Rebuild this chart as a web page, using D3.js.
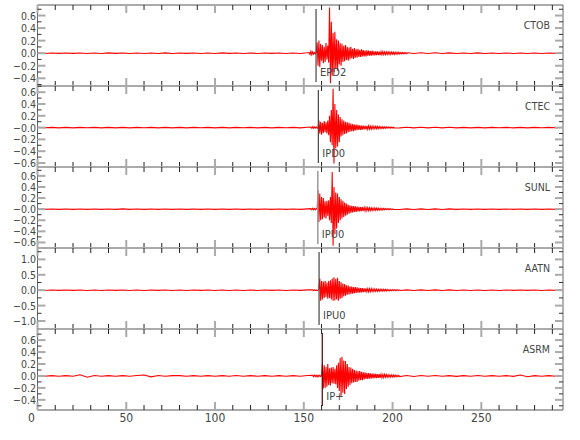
<!DOCTYPE html>
<html><head><meta charset="utf-8">
<script src="https://cdn.jsdelivr.net/npm/d3@7/dist/d3.min.js"></script>
<style>body{margin:0;background:#fff}</style>
</head><body><svg id="c" width="580" height="440"></svg>
<script>
// ---------- data ----------
const stations = ["CTOB","CTEC","SUNL","AATN","ASRM"];
const phaseLabels = ["EPD2","IPD0","IPU0","IPU0","IP+"];
const phaseTimes = [156.9,158.2,157.9,158.6,160.4];
const yMins = [-0.523,-0.668,-0.70,-1.26,-0.57];
const yMaxs = [0.768,0.705,0.76,1.37,0.786];
const yTickValues = [
  [0.6,0.4,0.2,0,-0.2,-0.4],
  [0.6,0.4,0.2,0,-0.2,-0.4,-0.6],
  [0.6,0.4,0.2,0,-0.2,-0.4,-0.6],
  [1.0,0.5,0,-0.5,-1.0],
  [0.6,0.4,0.2,0,-0.2,-0.4]
];
const yTickLabels = [
  ["0.6","0.4","0.2","0.0","\u22120.2","\u22120.4"],
  ["0.6","0.4","0.2","\u22120.0","\u22120.2","\u22120.4","\u22120.6"],
  ["0.6","0.4","0.2","\u22120.0","\u22120.2","\u22120.4","\u22120.6"],
  ["1.0","0.5","0.0","\u22120.5","\u22121.0"],
  ["0.6","0.4","0.2","0.0","\u22120.2","\u22120.4"]
];
const yMinorSteps = [0.1,0.1,0.1,0.25,0.1];
const xTickValues = [0,50,100,150,200,250];
const xTickLabels = ["0","50","100","150","200","250"];
const xMinorStep = 10;
const xMax = 296;

// background noise, one value every 4 s from t = 0
const noiseStep = 4;
const ctobNoise = [0.003,-0.004,0.003,-0.003,0.004,-0.003,0.004,-0.004,0.003,-0.004,
 0.005,-0.003,0.004,-0.005,0.004,-0.004,0.003,-0.004,0.005,-0.004,
 0.004,-0.003,0.004,-0.005,0.004,-0.004,0.005,-0.003,0.004,-0.004,
 0.003,-0.004,0.004,-0.003,0.004,-0.005,0.004,-0.004,0.006,-0.005,
 0.008,-0.007,0.009,-0.008,0.008,-0.007,0.007,-0.008,0.006,-0.007,
 0.007,-0.006,0.006,-0.006,0.006,-0.005,0.006,-0.005,0.005,-0.005,
 0.004,-0.005,0.005,-0.004,0.004,-0.005,0.004,-0.004,0.004,-0.004,
 0.003,-0.004,0.003,-0.003,0.003];
const ctecNoise = [0.003,-0.003,0.004,-0.004,0.003,-0.004,0.004,-0.003,0.004,-0.004,
 0.004,-0.004,0.003,-0.004,0.004,-0.003,0.004,-0.004,0.004,-0.004,
 0.003,-0.004,0.004,-0.003,0.004,-0.004,0.003,-0.004,0.004,-0.003,
 0.004,-0.004,0.003,-0.004,0.004,-0.003,0.004,-0.004,0.005,-0.005,
 0.007,-0.006,0.008,-0.007,0.007,-0.007,0.007,-0.006,0.006,-0.006,
 0.006,-0.005,0.005,-0.005,0.005,-0.005,0.005,-0.004,0.005,-0.004,
 0.004,-0.004,0.004,-0.004,0.004,-0.003,0.004,-0.004,0.003,-0.004,
 0.003,-0.003,0.004,-0.003,0.003];
const sunlNoise = [0.004,-0.003,0.004,-0.004,0.003,-0.004,0.004,-0.004,0.004,-0.003,
 0.004,-0.004,0.005,-0.004,0.004,-0.003,0.004,-0.004,0.004,-0.004,
 0.004,-0.004,0.003,-0.004,0.004,-0.004,0.004,-0.003,0.004,-0.004,
 0.004,-0.004,0.004,-0.004,0.003,-0.004,0.004,-0.004,0.005,-0.005,
 0.007,-0.007,0.008,-0.008,0.008,-0.007,0.007,-0.007,0.006,-0.006,
 0.006,-0.005,0.005,-0.006,0.005,-0.005,0.005,-0.005,0.005,-0.004,
 0.004,-0.004,0.004,-0.004,0.004,-0.004,0.004,-0.004,0.004,-0.003,
 0.004,-0.004,0.003,-0.004,0.003];
const aatnNoise = [0.007,-0.008,0.007,-0.007,0.008,-0.007,0.008,-0.008,0.007,-0.008,
 0.008,-0.007,0.008,-0.008,0.007,-0.008,0.008,-0.007,0.008,-0.008,
 0.007,-0.008,0.008,-0.007,0.008,-0.008,0.007,-0.008,0.008,-0.008,
 0.007,-0.008,0.008,-0.007,0.008,-0.008,0.008,-0.007,0.01,-0.01,
 0.014,-0.013,0.015,-0.014,0.013,-0.013,0.012,-0.012,0.011,-0.011,
 0.01,-0.01,0.01,-0.01,0.009,-0.009,0.009,-0.009,0.009,-0.008,
 0.008,-0.008,0.008,-0.008,0.008,-0.008,0.008,-0.007,0.008,-0.007,
 0.007,-0.008,0.007,-0.007,0.007];
const asrmNoise = [0.005,-0.005,0.006,-0.005,0.005,-0.006,0.02,-0.022,0.007,-0.006,
 0.005,-0.006,0.006,-0.005,0.008,0.016,-0.015,0.007,-0.006,0.006,
 0.005,-0.006,0.006,-0.005,0.006,-0.006,0.005,-0.006,0.007,-0.006,
 0.006,-0.005,0.006,-0.006,0.005,-0.006,0.006,-0.006,0.008,-0.008,
 0.01,-0.009,0.011,-0.01,0.01,-0.009,0.009,-0.008,0.008,-0.008,
 0.008,-0.007,0.007,-0.008,0.007,-0.006,0.007,-0.006,0.006,-0.007,
 0.006,-0.006,0.007,-0.006,0.006,-0.005,0.006,-0.007,0.016,-0.014,
 0.006,-0.005,0.006,-0.005,0.005];

// event waveforms, one value every 0.5 s from each start time
const denseStep = 0.5;
const denseStarts = [153.0,154.0,154.0,155.0,155.0];
const ctobDense = [0.01,-0.02,0.03,-0.025,0.02,-0.015,0.01,-0.01,0.01,
 0.17,-0.2,0.2,-0.22,0.15,-0.12,0.13,-0.16,0.1,-0.14,0.16,-0.1,0.12,-0.15,
 0.73,-0.48,0.5,-0.36,0.32,-0.3,0.34,-0.25,0.22,-0.28,0.2,-0.18,0.16,-0.2,0.15,-0.14,
 0.12,-0.13,0.13,-0.11,0.1,-0.12,0.09,-0.1,0.1,-0.08,0.07,-0.09,0.08,-0.07,0.06,
 -0.07,0.07,-0.06,0.05,-0.06,0.06,-0.05,0.05,-0.05,0.04,-0.05,0.045,-0.04,0.04,-0.04,
 0.035,-0.04,0.04,-0.035,0.03,-0.035,0.03,-0.03,0.03,-0.03,0.025,-0.03,0.025,-0.025,0.025,
 -0.02,0.02,-0.025,0.02,-0.02,0.02,-0.02,0.018,-0.02,0.018,-0.015,0.016,-0.018,0.015,-0.015,
 0.014,-0.013,0.015,-0.012,0.012,-0.01,0.01,-0.01,0.009,-0.008,0.008,-0.007,0.006];
const ctecDense = [0.01,-0.01,0.015,-0.012,0.01,-0.01,0.012,-0.01,0.0,
 0.12,-0.1,0.1,-0.12,0.08,-0.09,0.11,-0.08,0.09,-0.1,0.12,-0.13,0.2,-0.25,0.3,-0.3,
 0.66,-0.61,0.4,-0.35,0.3,-0.32,0.22,-0.25,0.18,-0.15,0.14,-0.13,0.12,-0.11,0.1,-0.1,
 0.09,-0.08,0.08,-0.07,0.07,-0.06,0.06,-0.06,0.05,-0.05,0.05,-0.045,0.045,-0.04,0.04,-0.04,
 0.035,-0.035,0.035,-0.03,0.03,-0.03,0.03,-0.028,0.028,-0.025,0.025,-0.025,0.022,-0.022,
 0.02,-0.02,0.02,-0.02,0.018,-0.018,0.016,-0.016,0.015,-0.015,0.014,-0.013,0.012,-0.012,
 0.012,-0.01,0.01,-0.01,0.009,-0.008,0.008,-0.007,0.006,-0.006];
const sunlDense = [0.01,-0.012,0.015,-0.01,0.012,-0.01,0.01,0.0,
 0.34,-0.23,0.28,-0.2,0.22,-0.18,0.2,-0.15,0.14,-0.17,0.15,-0.12,0.16,-0.2,0.22,-0.25,
 0.67,-0.66,0.4,-0.45,0.3,-0.35,0.28,-0.25,0.22,-0.2,0.18,-0.17,0.15,-0.14,0.12,-0.12,
 0.1,-0.1,0.08,-0.08,0.07,-0.07,0.06,-0.06,0.055,-0.05,0.05,-0.05,0.045,-0.04,0.04,-0.04,
 0.035,-0.035,0.035,-0.03,0.03,-0.03,0.03,-0.028,0.028,-0.025,0.025,-0.025,0.022,-0.022,
 0.02,-0.02,0.02,-0.02,0.018,-0.018,0.016,-0.016,0.015,-0.015,0.014,-0.013,0.012,-0.012,
 0.012,-0.01,0.01,-0.01,0.009,-0.008,0.008,-0.007,0.006,-0.006];
const aatnDense = [0.01,-0.01,0.012,-0.01,0.01,-0.012,0.0,0.05,
 0.38,-0.34,0.3,-0.3,0.28,-0.25,0.3,-0.22,0.25,-0.28,0.3,-0.25,0.32,-0.3,0.38,-0.34,
 0.42,-0.33,0.36,-0.3,0.4,-0.34,0.3,-0.28,0.26,-0.25,0.22,-0.2,0.2,-0.18,0.16,-0.15,
 0.15,-0.14,0.13,-0.12,0.12,-0.11,0.1,-0.1,0.1,-0.09,0.09,-0.08,0.08,-0.08,0.07,-0.07,
 0.07,-0.06,0.06,-0.06,0.06,-0.05,0.05,-0.05,0.05,-0.045,0.045,-0.04,0.04,-0.04,0.04,
 -0.035,0.035,-0.035,0.03,-0.03,0.03,-0.03,0.028,-0.028,0.025,-0.025,0.025,-0.022,0.022,
 -0.02,0.02,-0.02,0.018,-0.018,0.016,-0.016,0.015,-0.015,0.014,-0.013,0.012,-0.012,0.01,-0.01];
const asrmDense = [0.01,-0.012,0.015,-0.01,0.012,-0.015,0.01,-0.01,0.012,-0.01,0.0,
 0.2,-0.21,0.18,-0.2,0.15,-0.18,0.2,-0.15,0.13,-0.16,0.14,-0.12,0.15,-0.13,0.12,-0.14,
 0.18,-0.2,0.22,-0.25,0.3,-0.33,0.32,-0.28,0.26,-0.3,0.25,-0.22,0.2,-0.18,0.15,-0.15,
 0.14,-0.12,0.12,-0.11,0.1,-0.1,0.09,-0.1,0.08,-0.08,0.08,-0.07,0.07,-0.07,0.06,-0.06,
 0.06,-0.05,0.05,-0.05,0.05,-0.045,0.045,-0.04,0.04,-0.04,0.04,-0.035,0.035,-0.035,
 0.03,-0.03,0.03,-0.03,0.028,-0.028,0.025,-0.025,0.025,-0.022,0.022,-0.02,0.02,-0.02,
 0.018,-0.018,0.016,-0.016,0.015,-0.015,0.014,-0.013,0.012,-0.012,0.01,-0.01];

const noiseSeries = [ctobNoise,ctecNoise,sunlNoise,aatnNoise,asrmNoise];
const denseSeries = [ctobDense,ctecDense,sunlDense,aatnDense,asrmDense];

// ---------- layout ----------
const L = 37.5, R = 563, T = 5, PH = 81;
const svg = d3.select("#c");
const font = "'Liberation Sans Narrow','DejaVu Sans Condensed','DejaVu Sans',sans-serif";
const x = d3.scaleLinear().domain([0, xMax]).range([L, R]);
const xMinor = d3.range(0, xMax + 0.001, xMinorStep).filter(v => !xTickValues.includes(v));

svg.append("defs").selectAll("clipPath").data(stations).join("clipPath")
  .attr("id", (d,i) => "clip" + i)
  .append("rect").attr("x", L).attr("width", R - L)
  .attr("y", (d,i) => T + i*PH).attr("height", PH);

stations.forEach((name, i) => {
  const top = T + i*PH, bot = top + PH;
  const y = d3.scaleLinear().domain([yMins[i], yMaxs[i]]).range([bot, top]);
  const g = svg.append("g");

  // waveform
  const start = denseStarts[i];
  const dense = denseSeries[i].map((v,k) => [start + k*denseStep, v]);
  const end = dense[dense.length-1][0];
  const noise = noiseSeries[i].map((v,k) => [k*noiseStep, v]);
  const pts = noise.filter(p => p[0] < start).concat(dense, noise.filter(p => p[0] > end));
  g.append("path").datum(pts)
    .attr("clip-path", `url(#clip${i})`)
    .attr("fill","none").attr("stroke","#ff0000").attr("stroke-width",1.1)
    .attr("d", d3.line().x(d => x(d[0])).y(d => y(d[1])));

  // frame
  g.append("line").attr("x1",L).attr("x2",R).attr("y1",top).attr("y2",top)
    .attr("stroke","#aaa").attr("stroke-width",2);
  g.append("line").attr("x1",L).attr("x2",R).attr("y1",bot).attr("y2",bot)
    .attr("stroke","#aaa").attr("stroke-width",2);
  [L,R].forEach(xx => g.append("line").attr("x1",xx).attr("x2",xx).attr("y1",top).attr("y2",bot)
    .attr("stroke","#666").attr("stroke-width",1));

  // x ticks top and bottom
  [[top,1],[bot,-1]].forEach(([yy,dir]) => {
    g.selectAll(null).data(xMinor).join("line")
      .attr("x1", d => x(d)).attr("x2", d => x(d))
      .attr("y1", yy).attr("y2", yy + dir*5)
      .attr("stroke","#222").attr("stroke-width",1);
    g.selectAll(null).data(xTickValues).join("line")
      .attr("x1", d => x(d)).attr("x2", d => x(d))
      .attr("y1", yy).attr("y2", yy + dir*8)
      .attr("stroke","#aaa").attr("stroke-width",2);
  });

  // y ticks left and right
  const step = yMinorSteps[i];
  const yMinorVals = d3.range(Math.ceil(yMins[i]/step)*step, yMaxs[i], step)
    .map(v => Math.round(v*1000)/1000)
    .filter(v => !yTickValues[i].some(t => Math.abs(t - v) < 1e-6));
  [[L,1],[R,-1]].forEach(([xx,dir]) => {
    g.selectAll(null).data(yMinorVals).join("line")
      .attr("x1", xx).attr("x2", xx + dir*4)
      .attr("y1", d => y(d)).attr("y2", d => y(d))
      .attr("stroke","#333").attr("stroke-width",1);
    g.selectAll(null).data(yTickValues[i]).join("line")
      .attr("x1", xx).attr("x2", xx + dir*8)
      .attr("y1", d => y(d)).attr("y2", d => y(d))
      .attr("stroke","#aaa").attr("stroke-width",2);
  });
  g.selectAll(null).data(yTickValues[i]).join("text")
    .attr("x", L - 1.5).attr("y", d => y(d))
    .attr("text-anchor","end").attr("dominant-baseline","central")
    .attr("font-family", font).attr("font-size", 10.5).attr("font-stretch","condensed")
    .attr("fill","#444")
    .text((d,k) => yTickLabels[i][k]);

  // station name
  g.append("text").attr("x", 550).attr("y", top + 24)
    .attr("text-anchor","end").attr("font-family", font).attr("font-size", 10.5)
    .attr("font-stretch","condensed").attr("fill","#444").text(name);

  // phase marker
  const px = x(phaseTimes[i]);
  g.append("line").attr("x1",px).attr("x2",px).attr("y1",top+4).attr("y2",bot-4)
    .attr("stroke", i === 2 ? "#999" : (i === 4 ? "#4a0000" : "#444"))
    .attr("stroke-width", i === 2 ? 1.5 : 1.2);
  g.append("text").attr("x", px + 4).attr("y", top + 71)
    .attr("font-family", font).attr("font-size", 11).attr("font-stretch","condensed")
    .attr("fill","#444").text(phaseLabels[i]);
});

// x-axis labels
const bottom = T + 5*PH;
svg.append("g").selectAll("text").data(xTickValues).join("text")
  .attr("x", (d,k) => x(d) - (k === 0 ? 6 : 0)).attr("y", bottom + 12)
  .attr("text-anchor","middle").attr("font-family", font).attr("font-size", 12)
  .attr("font-stretch","condensed").attr("fill","#444").text((d,k) => xTickLabels[k]);
</script></body></html>
